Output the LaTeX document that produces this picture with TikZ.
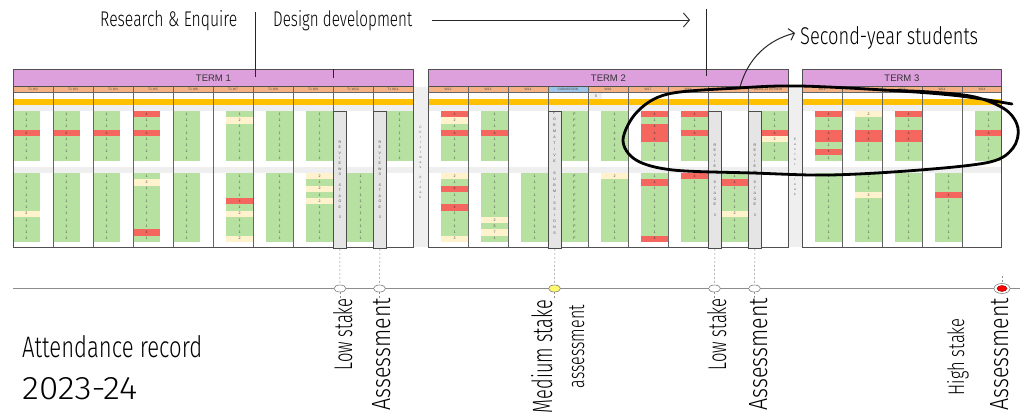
\documentclass[tikz,border=0pt]{standalone}
\usepackage{fontspec}
\setmainfont{Liberation Sans}
\newfontfamily\handf{Fira Sans}[UprightFont=* Light]
\usetikzlibrary{arrows.meta,shapes.geometric}
\definecolor{purp}{RGB}{221,160,221}
\definecolor{orng}{RGB}{244,177,131}
\definecolor{gold}{RGB}{255,192,0}
\definecolor{cg}{RGB}{183,225,161}
\definecolor{cr}{RGB}{244,102,94}
\definecolor{cy}{RGB}{255,242,204}
\definecolor{lg}{RGB}{239,239,239}
\definecolor{bargray}{RGB}{229,229,229}
\definecolor{subblue}{RGB}{157,195,230}
\definecolor{frame}{RGB}{80,80,80}
\newcommand\blk[3]{\foreach \kk/\vv [count=\ii from 0] in {#3}{%
  \fill[fill=c\kk] (#1,#2+\ii*6.25) rectangle ++(27,6.25);
  \node[cellt] (d#1x#2x\ii) at (#1+13.5,#2+\ii*6.25+3.125) {\vv};}}
\begin{document}
\begin{tikzpicture}[x=1pt,y=-1pt,
  cellt/.style={font=\fontsize{3.6}{4}\selectfont,text=black!75,inner sep=0},
  wk/.style={font=\fontsize{3.3}{4}\selectfont,text=black!70,inner sep=0},
  termhd/.style={draw=frame,fill=purp,line width=0.8pt,minimum height=17pt,anchor=north west,inner sep=0,font=\fontsize{9.5}{10}\selectfont,text=black!80},
  colline/.style={draw=black!60,line width=0.7pt},
  frm/.style={draw=frame,line width=1pt},
  rbar/.style={draw=black!70,fill=bargray,line width=0.8pt,minimum width=13pt,minimum height=137pt,anchor=north west,inner sep=0,font=\fontsize{3.6}{5.4}\selectfont,align=center,text=black!70},
  brk/.style={font=\fontsize{3.3}{5}\selectfont,text=black!60,align=center,inner sep=0},
  ink/.style={draw=black!85,line width=0.9pt},
  guide/.style={draw=black!45,line width=0.5pt,dash pattern=on 2pt off 2pt},
  mk/.style={ellipse,draw=black!50,fill=white,minimum width=12pt,minimum height=7pt,inner sep=0,line width=0.6pt},
  hand/.style={font=\handf,inner sep=0,text=black,anchor=base west},
  lbl/.style={font=\handf,inner sep=0,text=black,rotate=90,anchor=base east}
]
\useasboundingbox (0,0) rectangle (1024,415);
\fill[white] (0,0) rectangle (1024,415);

% ---------- table backgrounds ----------
\foreach \a/\b in {13/413,428/788,802/1001}{
  \fill[lg] (\a,105) rectangle (\b,111);
  \fill[lg] (\a,167) rectangle (\b,172.5);
  \fill[gold] (\a,99) rectangle (\b,104.5);
  \fill[orng] (\a,86) rectangle (\b,92);
}
\fill[subblue] (548,86) rectangle (588,92);
\fill[lg] (413,87) rectangle (428,247);
\fill[lg] (788,87) rectangle (802,247);
\fill[lg] (590,93) rectangle (602,98.5);
\node[cellt] (five) at (596,95.8) {5};

% ---------- Term 1 data ----------
\blk{13}{111}{g/1,g/1,g/1,r/4,g/1,g/1,g/1,g/1}
\blk{13}{173}{g/1,g/1,g/1,g/1,g/1,g/1,y/2,g/1,g/1,g/1,g/1}
\blk{53}{111}{g/1,g/1,g/1,r/4,g/1,g/1,g/1,g/1}
\blk{53}{173}{g/1,g/1,g/1,g/1,g/1,g/1,g/1,g/1,g/1,g/1,g/1}
\blk{93}{111}{g/1,g/1,g/1,r/4,g/1,g/1,g/1,g/1}
\blk{93}{173}{g/1,g/1,g/1,g/1,g/1,g/1,g/1,g/1,g/1,g/1,g/1}
\blk{133}{111}{r/4,g/1,g/1,r/4,g/1,g/1,g/1,g/1}
\blk{133}{173}{g/1,y/2,g/1,g/1,g/1,g/1,g/1,g/1,g/1,r/4,g/1}
\blk{173}{111}{g/1,g/1,g/1,g/1,g/1,g/1,g/1,g/1}
\blk{173}{173}{g/1,g/1,g/1,g/1,g/1,g/1,g/1,g/1,g/1,g/1,g/1}
\blk{226}{111}{g/1,y/2,g/1,g/1,g/1,g/1,g/1,g/1}
\blk{226}{173}{g/1,g/1,g/1,g/1,r/4,g/1,y/2,g/1,g/1,g/1,y/2}
\blk{266}{111}{g/1,g/1,g/1,g/1,g/1,g/1,g/1,g/1}
\blk{266}{173}{g/1,g/1,g/1,g/1,g/1,g/1,g/1,g/1,g/1,g/1,g/1}
\blk{306}{111}{g/1,g/1,g/1,g/1,g/1,g/1,g/1,g/1}
\blk{306}{173}{y/2,g/1,y/2,g/1,y/2,g/1,g/1,g/1,g/1,g/1,g/1}
\blk{347}{173}{g/1,g/1,g/1,g/1,g/1,g/1,g/1,g/1,g/1,g/1,g/1}
\blk{386}{111}{g/1,g/1,g/1,g/1,g/1,g/1,g/1,g/1}

% ---------- Term 2 data ----------
\blk{441}{111}{r/4,y/2,g/1,r/4,g/1,g/1,g/1,g/1}
\blk{441}{173}{y/2,g/1,r/4,g/1,g/1,r/4,g/1,g/1,g/1,g/1,y/2}
\blk{481}{111}{g/1,g/1,g/1,r/4,g/1,g/1,g/1,g/1}
\blk{481}{173}{g/1,g/1,g/1,g/1,g/1,g/1,g/1,y/2,g/5,y/7,g/1}
\blk{521}{173}{g/1,g/1,g/1,g/1,g/1,g/1,g/1,g/1,g/1,g/1,g/1}
\blk{561}{111}{g/F,g/F,g/F,g/F,g/F,g/F,g/F,g/F}
\blk{561}{173}{g/F,g/F,g/F,g/F,g/F,g/F,g/F,g/F,g/F,g/F,g/F}
\blk{601}{111}{g/1,g/1,g/1,g/4,g/4,g/1,g/1,g/1}
\blk{601}{173}{y/2,g/1,g/1,g/1,g/1,g/1,g/1,g/1,g/1,g/1,g/1}
\blk{641}{111}{r/4,g/1,r/4,r/4,r/4,g/1,g/1,g/1}
\blk{641}{173}{g/1,r/4,g/1,g/1,g/1,g/1,g/1,g/1,g/1,g/1,r/4}
\blk{681}{111}{r/4,g/1,g/1,r/4,g/1,g/1,g/1,g/1}
\blk{681}{173}{r/4,g/1,g/1,g/1,g/1,g/1,g/1,g/1,g/1,g/1,g/1}
\blk{721}{173}{g/1,r/4,g/1,g/1,g/1,g/1,y/2,g/1,g/1,g/1,g/1}
\blk{761}{111}{g/1,g/1,g/1,r/4,y/2,g/1,g/1,g/1}

% ---------- Term 3 data ----------
\blk{815}{111}{r/4,g/1,g/1,r/4,r/4,g/1,r/4,g/1}
\blk{815}{173}{g/1,g/1,g/1,g/1,g/1,g/1,g/1,g/1,g/1,g/1,g/1}
\blk{855}{111}{y/2,g/1,g/1,r/4,r/4,g/1,g/1,g/1}
\blk{855}{173}{g/1,g/1,g/1,y/2,g/1,g/1,g/1,g/1,g/1,g/1,g/1}
\blk{895}{111}{r/4,g/1,g/1,r/4,r/4,g/1,g/1,g/1}
\blk{895}{173}{g/1,g/1,g/1,g/1,g/1,g/1,g/1,g/1,g/1,g/1,g/1}
\blk{935}{173}{g/1,g/1,g/1,r/4,g/1,g/1,g/1,g/1,g/1,g/1,g/1}
\blk{975}{111}{g/1,g/1,g/1,r/4,g/1,g/1,g/1,g/1}

% ---------- column lines ----------
\foreach \x in {53,93,133,173,213,253,293,333,373,468,508,548,588,628,668,708,748,842,882,922,962}
  \draw[colline] (\x,86) -- (\x,247);
\foreach \a/\b in {13/413,428/788,802/1001}{
  \draw[colline] (\a,92) -- (\b,92);
}

% ---------- week headers ----------
\foreach \x/\l in {33/T1 W2,73/T1 W3,113/T1 W4,153/T1 W5,193/T1 W6,233/T1 W7,273/T1 W8,313/T1 W9,353/T1 W10,393/T1 W11,
  448/W12,488/W13,528/W14,568/SUBMISSION,608/W16,648/W17,688/W18,728/W19 REVIEW,768/W20 \& 21 REVIEW,
  822/W21,862/W22,902/W23,942/W24,982/W24}
  \node[wk] (w\x) at (\x,89.2) {\l};

% ---------- term headers and frames ----------
\node[termhd,minimum width=400pt] (T1) at (13,69) {TERM 1};
\node[termhd,minimum width=360pt] (T2) at (428,69) {TERM 2};
\node[termhd,minimum width=199pt] (T3) at (802,69) {TERM 3};
\draw[frm] (13,69) rectangle (413,247);
\draw[frm] (428,69) rectangle (788,247);
\draw[frm] (802,69) rectangle (1001,247);

% ---------- review / formative bars ----------
\node[rbar] (rb1) at (333,111) {R\\E\\V\\I\\E\\W\\S\\~\\S\\T\\A\\G\\E\\~\\3};
\node[rbar] (rb2) at (373,111) {R\\E\\V\\I\\E\\W\\S\\~\\S\\T\\A\\G\\E\\~\\3};
\node[rbar] (rb3) at (548,111) {};
\node[brk,font=\fontsize{3.6}{6}\selectfont,text=black!70] (fs) at (554.5,173) {F\\O\\R\\M\\A\\T\\I\\V\\E\\~\\S\\U\\B\\M\\I\\S\\S\\I\\O\\N\\S};
\node[rbar] (rb4) at (708,111) {R\\E\\V\\I\\E\\W\\~\\S\\T\\A\\G\\E\\~\\3};
\node[rbar] (rb5) at (748,111) {R\\E\\V\\I\\E\\W\\~\\S\\T\\A\\G\\E\\~\\3};

% ---------- breaks ----------
\node[brk] (xmas) at (420.5,162) {C\\h\\r\\i\\s\\t\\m\\a\\s\\~\\b\\r\\e\\a\\k};
\node[brk] (easter) at (795,167) {E\\a\\s\\t\\e\\r\\~\\b\\r\\e\\a\\k};

% ---------- annotations at top ----------
\node[hand] (re) at (100,27) {\resizebox{137pt}{16pt}{Research \& Enquire}};
\node[hand] (dd) at (273,27) {\resizebox{139pt}{16pt}{Design development}};
\node[hand] (sy) at (800,44) {\resizebox{178pt}{18pt}{Second-year students}};
\coordinate (v1t) at (255,12);
\coordinate (v1b) at (255,77);
\coordinate (v2t) at (333,69);
\coordinate (v2b) at (333,78);
\coordinate (v3t) at (706,9);
\coordinate (v3b) at (706,76);
\coordinate (a1s) at (432,20);
\coordinate (a1e) at (690,20);
\coordinate (a2s) at (740,87);
\coordinate (a2e) at (795,33);
\draw[ink] (v1t) -- (v1b);
\draw[ink] (v2t) -- (v2b);
\draw[ink] (v3t) -- (v3b);
\draw[ink,-{Straight Barb[length=6pt,width=14pt]}] (a1s) -- (a1e);
\draw[ink,line width=1pt,-{Straight Barb[length=5pt,width=12pt]}] (a2s) .. controls (748,58) and (768,40) .. (a2e);

% ---------- hand-drawn loop ----------
\draw[black,line width=2.8pt,line cap=round,line join=round] plot[smooth,tension=0.55] coordinates {
 (1012,104) (960,96) (900,91) (800,86) (738,88) (668,94) (637,112) (623,140) (636,160) (673,170)
 (753,173) (830,175) (920,170) (990,162) (1013,148) (1018,128) (1006,110) (975,97) (930,92) (880,90)};

% ---------- timeline ----------
\coordinate (tl0) at (13,288.5);
\coordinate (tl1) at (1020,288.5);
\draw[draw=black!45,line width=0.8pt] (tl0) -- (tl1);
\node[mk] (m1) at (340,288.5) {};
\node[mk] (m2) at (379.5,288.5) {};
\node[mk,fill={rgb,255:red,255;green,250;blue,110}] (m3) at (554.5,288.5) {};
\node[mk] (m4) at (714.5,288.5) {};
\node[mk] (m5) at (754.5,288.5) {};
\node[mk,minimum width=16pt,minimum height=10pt] (m6) at (1002,288.5) {};
\node[ellipse,fill=red,draw=red!60!black,minimum width=10pt,minimum height=6pt,inner sep=0] (m6in) at (1002,288.5) {};
\coordinate (m6t) at (1002,276);
\foreach \b/\m in {rb1/m1,rb2/m2,rb3/m3,rb4/m4,rb5/m5}{
  \draw[guide] (\b.south) -- (\m.north);
  \draw[guide] (\m.south) -- ++(0,8);
}
\draw[guide] (m6t) -- (m6.north);

% ---------- rotated labels ----------
\node[lbl] (l1) at (352,298) {\resizebox{72pt}{19pt}{Low stake}};
\node[lbl] (l2) at (390,298) {\resizebox{112pt}{18pt}{Assessment}};
\node[lbl] (l3) at (552,300) {\resizebox{113pt}{21pt}{Medium stake}};
\node[lbl] (l4) at (584,305) {\resizebox{83pt}{15pt}{assessment}};
\node[lbl] (l5) at (726,298) {\resizebox{72pt}{19pt}{Low stake}};
\node[lbl] (l6) at (767,298) {\resizebox{112pt}{18pt}{Assessment}};
\node[lbl] (l7) at (964,318) {\resizebox{77pt}{17pt}{High stake}};
\node[lbl] (l8) at (1008,298) {\resizebox{112pt}{18pt}{Assessment}};

% ---------- title ----------
\node[hand] (tt1) at (22,357) {\resizebox{180pt}{22pt}{Attendance record}};
\node[hand] (tt2) at (22,399) {\resizebox{115pt}{22pt}{2023-24}};
\end{tikzpicture}
\end{document}
